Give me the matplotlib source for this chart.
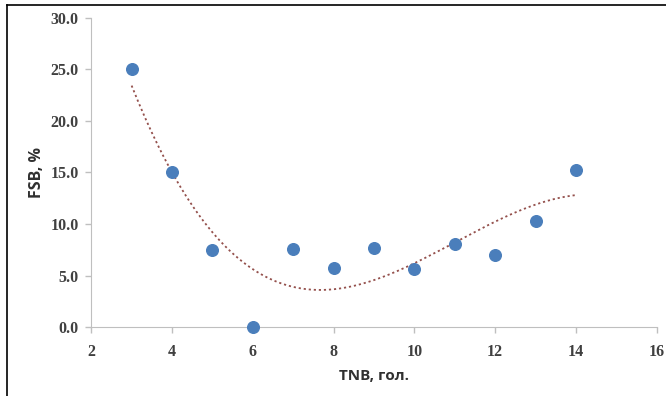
import numpy as np
import matplotlib.pyplot as plt

# data
tnb = [3, 4, 5, 6, 7, 8, 9, 10, 11, 12, 13, 14]
fsb = [25.0, 15.0, 7.5, 0.0, 7.6, 5.7, 7.7, 5.6, 8.1, 7.0, 10.3, 15.2]
x_ticks = [2, 4, 6, 8, 10, 12, 14, 16]
y_ticks = [0, 5, 10, 15, 20, 25, 30]

fig = plt.figure(figsize=(6.66, 3.96), dpi=100)
ax = fig.add_axes([0.137, 0.174, 0.849, 0.781])

# polynomial trend line (Excel-style)
coef = np.polyfit(tnb, fsb, 3)
xs = np.linspace(min(tnb), max(tnb), 200)
ax.plot(xs, np.polyval(coef, xs), linestyle=(0, (1.2, 1.6)), color='#94504c', linewidth=1.3, zorder=2)

ax.scatter(tnb, fsb, s=70, color='#4a7ebb', zorder=3, clip_on=False)

ax.set_xlim(2, 16)
ax.set_ylim(0, 30)
ax.set_xticks(x_ticks)
ax.set_yticks(y_ticks)
ax.set_yticklabels([f"{v:.1f}" for v in y_ticks])

for s in ['top', 'right']:
    ax.spines[s].set_visible(False)
for s in ['left', 'bottom']:
    ax.spines[s].set_color('#bfbfbf')
ax.tick_params(colors='#bfbfbf', length=4, width=1, labelcolor='#404040')
ax.tick_params(axis='x', pad=8)
ax.tick_params(axis='y', pad=5)
for lab in ax.get_xticklabels() + ax.get_yticklabels():
    lab.set_fontfamily('Liberation Serif')
    lab.set_fontweight('bold')
    lab.set_fontsize(11.5)

ax.set_xlabel('TNB, гол.', fontsize=11, fontweight='bold', family='Open Sans', color='#303030', labelpad=7)
ax.set_ylabel('FSB, %', fontsize=11.5, fontweight='bold', family='Open Sans', color='#303030', labelpad=4)

# outer frame lines (left and top)
fig.add_artist(plt.Line2D([0.011, 0.011], [0, 0.987], color='black', linewidth=1.2))
fig.add_artist(plt.Line2D([0.011, 1.0], [0.987, 0.987], color='black', linewidth=1.2))

fig.savefig('out.png', dpi=100)
